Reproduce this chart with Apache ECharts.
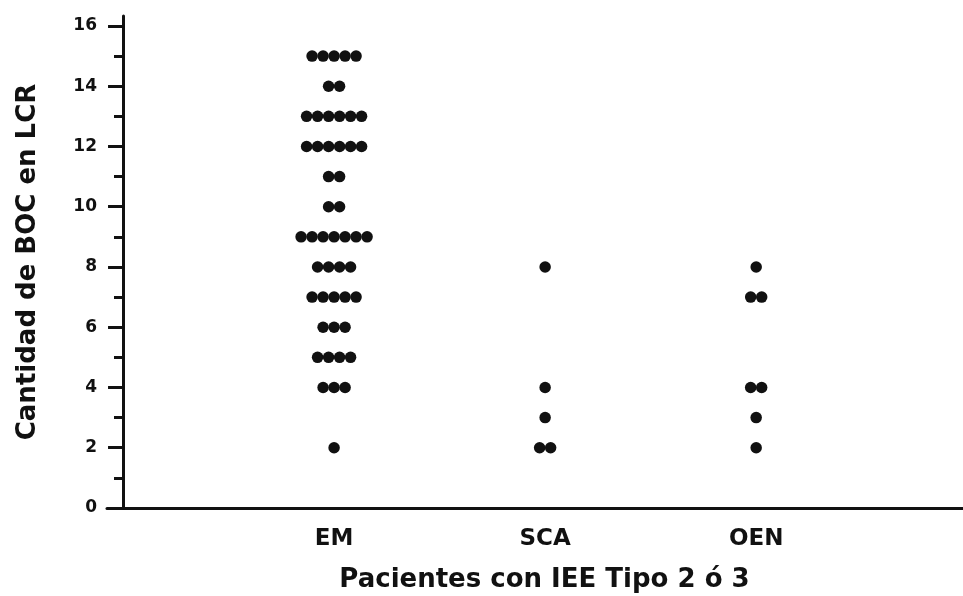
<!DOCTYPE html>
<html>
<head>
<meta charset="utf-8">
<script src="https://cdn.jsdelivr.net/npm/echarts@6/dist/echarts.min.js"></script>
<style>
  html, body { margin: 0; padding: 0; background: #fff; }
  #boc { width: 963px; height: 596px; }
</style>
</head>
<body>
<div id="boc"></div>
<script>
  // groups on the x axis
  let groups = ['EM', 'SCA', 'OEN']

  // BOC count levels and how many patients sit on each level
  let em_levels  = [15, 14, 13, 12, 11, 10, 9, 8, 7, 6, 5, 4, 2]
  let em_counts  = [ 5,  2,  6,  6,  2,  2, 7, 4, 5, 3, 4, 3, 1]
  let sca_levels = [8, 4, 3, 2]
  let sca_counts = [1, 1, 1, 2]
  let oen_levels = [8, 7, 4, 3, 2]
  let oen_counts = [1, 2, 2, 1, 1]

  let y_major = [0, 2, 4, 6, 8, 10, 12, 14, 16]
  let y_minor = [1, 3, 5, 7, 9, 11, 13, 15]

  let chart = echarts.init(document.getElementById('boc'))

  const dotGap = 11
  let buildDots = (groupIndex, levels, counts) => {
    let points = []
    levels.forEach((level, k) => {
      let n = counts[k]
      for (let i = 0; i < n; i++) {
        points.push({
          value: [groupIndex + 1, level],
          symbolOffset: [(i - (n - 1) / 2) * dotGap, 0]
        })
      }
    })
    return points
  }

  let axisFont = 'DejaVu Sans'
  let ink = '#111'

  chart.setOption({
    animation: false,
    grid: { left: 107, right: 0, top: 16, bottom: 88, outerBoundsMode: 'none', containLabel: false },
    xAxis: {
      type: 'value',
      min: -0.076,
      max: 3.98,
      splitLine: { show: false },
      axisLine: { onZero: false, lineStyle: { color: ink, width: 3 } },
      axisTick: { show: false },
      axisLabel: {
        customValues: [1, 2, 3],
        formatter: (v) => groups[Math.round(v) - 1] || '',
        color: ink, fontFamily: axisFont, fontWeight: 'bold', fontSize: 23, margin: 20
      },
      name: 'Pacientes con IEE Tipo 2 ó 3',
      nameLocation: 'middle',
      nameGap: 59,
      nameTextStyle: { color: ink, fontFamily: axisFont, fontWeight: 'bold', fontSize: 26, padding: [0, 0, 0, 19] }
    },
    yAxis: [
      {
        type: 'value',
        min: 0,
        max: 16.33,
        splitLine: { show: false },
        axisLine: { onZero: true, lineStyle: { color: ink, width: 3 } },
        axisTick: { customValues: y_major, length: 15, lineStyle: { color: ink, width: 3 } },
        axisLabel: {
          customValues: y_major,
          color: ink, fontFamily: axisFont, fontWeight: 'bold', fontSize: 17, margin: 10
        },
        name: 'Cantidad de BOC en LCR',
        nameLocation: 'middle',
        nameGap: 66,
        nameTextStyle: { color: ink, fontFamily: axisFont, fontWeight: 'bold', fontSize: 26 }
      },
      {
        // minor ticks only, shifted onto the main axis line
        type: 'value',
        min: 0,
        max: 16.33,
        position: 'left',
        offset: -16,
        splitLine: { show: false },
        axisLine: { show: false, onZero: false },
        axisTick: { customValues: y_minor, length: 9, lineStyle: { color: ink, width: 3 } },
        axisLabel: { show: false }
      }
    ],
    series: [
      { type: 'scatter', name: 'EM', symbolSize: 11.5, itemStyle: { color: ink, opacity: 1 }, data: buildDots(0, em_levels, em_counts) },
      { type: 'scatter', name: 'SCA', symbolSize: 11.5, itemStyle: { color: ink, opacity: 1 }, data: buildDots(1, sca_levels, sca_counts) },
      { type: 'scatter', name: 'OEN', symbolSize: 11.5, itemStyle: { color: ink, opacity: 1 }, data: buildDots(2, oen_levels, oen_counts) }
    ]
  })
</script>
</body>
</html>
